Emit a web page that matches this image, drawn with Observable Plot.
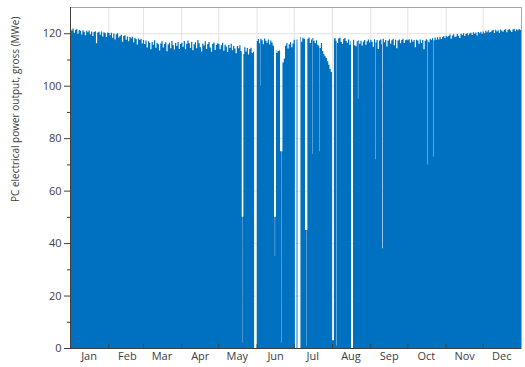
<!DOCTYPE html>
<html>
<head>
<meta charset="utf-8">
<script src="https://cdn.jsdelivr.net/npm/d3@7"></script>
<script src="https://cdn.jsdelivr.net/npm/@observablehq/plot@0.6"></script>
<style>
  body { margin: 0; background: #fff; }
  #chart svg { display: block; }
</style>
</head>
<body>
<div id="chart"></div>
<script>
// Month tick labels
const months = ["Jan", "Feb", "Mar", "Apr", "May", "Jun", "Jul", "Aug", "Sep", "Oct", "Nov", "Dec"];

// Typical daily gross output of the PC unit (MWe), one value per day
const jan = [121.6,121.0,121.8,120.2,121.3,121.5,119.8,121.2,120.9,119.5,121.1,120.6,119.2,120.9,120.4,121.0,119.6,120.7,118.9,120.5,120.8,116.2,120.3,120.6,119.4,120.7,118.8,120.4,120.1,118.6,120.3];
const feb = [120.1,119.2,120.2,118.3,119.9,117.6,119.6,120.0,118.4,118.9,119.4,116.8,118.9,119.2,117.5,118.8,116.9,118.6,118.1,118.7,116.6,118.2,117.8,115.7,118.0,117.4,117.9,116.1];
const mar = [117.4,115.9,117.2,114.6,116.9,116.4,113.9,116.7,115.6,117.3,114.5,116.4,115.8,113.4,116.1,116.9,114.6,115.9,116.6,113.1,115.7,116.4,114.3,117.0,115.5,113.8,116.3,115.1,116.7,114.0,115.9];
const apr = [116.4,114.8,117.0,113.9,116.0,117.2,116.2,114.4,116.8,113.5,115.8,116.6,114.3,117.4,116.2,114.7,113.0,116.1,115.3,116.9,114.0,115.9,116.7,114.6,112.9,116.0,116.5,113.6,115.6,116.2];
const may = [115.9,113.9,115.4,116.4,113.3,115.6,114.9,112.8,115.5,114.4,116.0,113.5,115.2,114.2,112.4,115.1,114.3,115.4,113.2,113.9,112.1,114.7,113.0,114.4,111.9,114.0,114.5,112.5,112.9,114.1,114.0];
const jun = [117.0,117.8,116.2,117.9,117.3,115.8,118.0,117.1,116.4,117.6,115.7,117.2,116.5,115.2,116.9,113.5,112.6,113.2,113.4,112.0,109.5,108.8,110.4,115.2,116.3,114.2,115.8,116.6,114.7,116.1];
const jul = [117.5,118.2,117.6,118.5,117.9,118.7,116.8,118.3,117.8,118.6,116.6,117.9,118.4,116.3,117.6,118.2,117.1,116.2,117.3,115.6,115.2,114.4,116.3,113.2,112.0,111.2,110.6,109.3,108.0,106.4,105.2];
const aug = [117.2,117.8,118.2,117.1,116.3,118.0,118.3,116.7,115.9,117.8,118.2,117.0,116.4,117.6,115.6,117.1,116.2,117.5,115.4,115.0,116.9,117.3,116.0,117.1,115.3,116.8,117.4,115.6,116.9,117.6,116.5];
const sep = [117.5,116.8,114.8,117.7,116.5,117.4,114.0,117.2,117.6,115.8,117.9,116.6,117.4,114.9,117.1,117.7,116.0,117.3,117.8,115.4,117.5,114.3,117.2,117.6,116.2,117.4,117.9,116.3,117.3,117.6];
const oct = [117.3,117.7,116.4,117.6,116.8,117.4,114.7,117.5,117.2,116.0,117.6,116.3,117.4,113.9,117.1,117.7,117.3,116.6,117.9,117.4,118.2,117.3,118.4,117.5,118.5,117.6,118.7,117.8,118.6,118.9,118.2];
const nov = [119.0,118.7,118.9,119.5,117.9,119.1,119.6,118.6,118.8,119.7,119.0,118.2,119.8,119.3,120.0,118.9,119.7,120.1,119.2,119.9,120.2,119.3,120.4,119.8,120.3,119.1,120.5,120.0,120.6,119.8];
const dec = [120.7,120.0,120.9,120.4,121.1,120.3,120.5,121.0,121.2,120.1,121.3,120.7,121.1,120.2,121.4,120.9,120.6,121.3,121.5,120.4,121.2,121.6,121.0,120.5,121.4,121.7,120.8,121.5,121.1,121.6,121.2];

// Trips, outages and derates: [month, day, start hour, MWe, duration in hours]
const events = [
  [5, 20, 0, 50, 14], [5, 20, 14, 2, 5], [5, 20, 19, 50, 12],
  [5, 30, 0, 0, 52],
  [6, 3, 18, 100, 6],
  [6, 15, 2, 50, 16], [6, 15, 18, 35, 6], [6, 16, 0, 50, 16],
  [6, 20, 0, 75, 20], [6, 20, 20, 2, 6], [6, 21, 2, 75, 20],
  [7, 2, 0, 0, 32],
  [7, 4, 2, 0, 58],
  [7, 10, 4, 45, 20], [7, 11, 0, 1, 6], [7, 11, 6, 45, 20],
  [7, 15, 20, 74, 7],
  [7, 21, 12, 75, 7],
  [8, 1, 0, 3, 38],
  [8, 4, 18, 1, 7],
  [8, 16, 10, 0, 39],
  [8, 22, 0, 95, 7],
  [9, 4, 20, 72, 7],
  [9, 10, 12, 38, 12],
  [10, 17, 0, 70, 7],
  [10, 21, 19, 73, 7]
];

// Axis ticks
const yMajor = [0, 20, 40, 60, 80, 100, 120];
const yMinor = [10, 30, 50, 70, 90, 110];
const yLabel = "PC electrical power output, gross (MWe)";

const HOUR = 3600e3;
const DAY = 24 * HOUR;
const yearStart = new Date(Date.UTC(2019, 0, 1));
const yearEnd = new Date(Date.UTC(2020, 0, 1));
const monthStarts = months.map((m, i) => new Date(Date.UTC(2019, i, 1)));
const monthMids = months.map((m, i) => new Date(Date.UTC(2019, i, 16)));

// One row per day, holding from midnight until the next row
const daily = [jan, feb, mar, apr, may, jun, jul, aug, sep, oct, nov, dec]
  .flatMap((vals, m) => vals.map((v, i) => ({date: new Date(Date.UTC(2019, m, i + 1)), mwe: v})));

const spans = events.map(([m, d, h, v, dur]) => {
  const start = Date.UTC(2019, m - 1, d, h);
  return {start, end: start + dur * HOUR, mwe: v};
});
const inside = t => spans.some(s => t >= s.start && t < s.end);
const dayValue = t => daily[Math.min(daily.length - 1, Math.floor((t - +yearStart) / DAY))].mwe;

// Merge daily levels with the event steps; one row per instant
const rows = new Map();
for (const p of daily) if (!inside(+p.date)) rows.set(+p.date, p.mwe);
for (const s of spans) {
  rows.set(s.start, s.mwe);
  if (!inside(s.end) && !rows.has(s.end)) rows.set(s.end, dayValue(s.end));
}
rows.set(+yearEnd, dec[dec.length - 1]);
const series = Array.from(rows, ([t, mwe]) => ({date: new Date(t), mwe}))
  .sort((a, b) => a.date - b.date);

const ink = "#404040";

const chart = Plot.plot({
  width: 525,
  height: 367,
  marginTop: 7,
  marginRight: 4,
  marginBottom: 19,
  marginLeft: 70,
  style: {fontFamily: "'Open Sans', sans-serif", fontSize: "11px", color: ink, background: "#fff"},
  x: {type: "utc", domain: [yearStart, yearEnd]},
  y: {domain: [0, 130]},
  marks: [
    Plot.gridX(monthStarts, {stroke: "#e2e2e2", strokeOpacity: 1}),
    Plot.gridY(yMajor, {stroke: "#e2e2e2", strokeOpacity: 1}),
    Plot.areaY(series, {x: "date", y: "mwe", curve: "step-after", fill: "#0070c0"}),
    Plot.frame({stroke: "#a6a6a6"}),
    Plot.ruleX(monthStarts.slice(1), {stroke: ink, insetTop: 337}),
    Plot.ruleX([yearStart], {stroke: ink}),
    Plot.ruleY([0], {stroke: ink}),
    Plot.axisX(monthMids, {tickSize: 0, tickPadding: 4, tickFormat: d => months[d.getUTCMonth()], label: null}),
    Plot.axisY(yMajor, {tickSize: 6, tickPadding: 3, label: null}),
    Plot.axisY(yMinor, {tickSize: 3, tickFormat: () => "", label: null}),
    Plot.text([yLabel], {frameAnchor: "left", rotate: -90, dx: -55, dy: 24, fontSize: 10, fill: ink})
  ]
});

document.getElementById("chart").appendChild(chart);
</script>
</body>
</html>
